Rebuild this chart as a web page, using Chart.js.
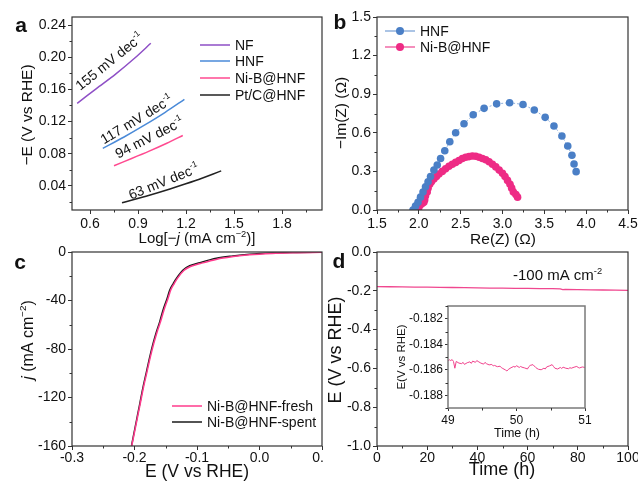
<!DOCTYPE html>
<html>
<head>
<meta charset="utf-8">
<script src="https://cdn.jsdelivr.net/npm/chart.js@4.4.0/dist/chart.umd.min.js"></script>
<style>
  body { margin: 0; background: #fff; }
  #wrap { position: relative; width: 638px; height: 481px; overflow: hidden; background: #fff; }
  canvas { position: absolute; }
</style>
</head>
<body>
<div id="wrap">
  <canvas id="ca" width="324" height="250" style="left:0;top:0"></canvas>
  <canvas id="cb" width="316" height="250" style="left:322px;top:0"></canvas>
  <canvas id="cc" width="324" height="241" style="left:0;top:240px"></canvas>
  <canvas id="cd" width="316" height="241" style="left:322px;top:240px"></canvas>
  <canvas id="ci" width="215" height="146" style="left:390px;top:296px"></canvas>
</div>
<script>
// ---- panel a: Tafel plots ----
const aNfX   = [0.52, 0.64, 0.76, 0.88, 0.98];
const aNfY   = [0.1427, 0.161, 0.179, 0.199, 0.2173];
const aHnfX  = [0.68, 0.81, 0.94, 1.07, 1.19];
const aHnfY  = [0.0866, 0.1005, 0.1155, 0.1315, 0.1476];
const aNibX  = [0.75, 0.86, 0.97, 1.08, 1.18];
const aNibY  = [0.0651, 0.0740, 0.0832, 0.0930, 0.1027];
const aPtX   = [0.80, 0.95, 1.10, 1.26, 1.42];
const aPtY   = [0.019, 0.0272, 0.0362, 0.0466, 0.0586];
const aXTicks = [0.6, 0.9, 1.2, 1.5, 1.8];
const aYTicks = [0.04, 0.08, 0.12, 0.16, 0.20, 0.24];

// ---- panel b: Nyquist ----
const bHnfRe = [1.93, 1.96, 1.99, 2.02, 2.05, 2.08, 2.11, 2.14, 2.18, 2.22, 2.26, 2.31, 2.37, 2.44, 2.54, 2.65,
                2.78, 2.93, 3.085, 3.245, 3.38, 3.51, 3.615, 3.71, 3.78, 3.83, 3.855, 3.88];
const bHnfIm = [0.0, 0.03, 0.06, 0.10, 0.14, 0.18, 0.22, 0.26, 0.31, 0.35, 0.40, 0.46, 0.53, 0.60, 0.67, 0.74,
                0.79, 0.825, 0.834, 0.82, 0.777, 0.72, 0.653, 0.575, 0.497, 0.425, 0.357, 0.298];
const bNibRe = [1.99, 2.0, 2.02, 2.04, 2.06, 2.07, 2.08, 2.10, 2.11, 2.13, 2.15, 2.18, 2.21, 2.24, 2.28, 2.32,
                2.36, 2.40, 2.44, 2.48, 2.52, 2.56, 2.60, 2.64, 2.68, 2.72, 2.76, 2.80, 2.84, 2.88, 2.92, 2.96,
                3.00, 3.03, 3.06, 3.09, 3.11, 3.13, 3.16, 3.18];
const bNibIm = [0.0, 0.02, 0.04, 0.05, 0.06, 0.08, 0.11, 0.14, 0.17, 0.20, 0.22, 0.24, 0.26, 0.28, 0.30, 0.32,
                0.34, 0.355, 0.37, 0.385, 0.40, 0.41, 0.415, 0.42, 0.418, 0.41, 0.40, 0.39, 0.375, 0.355, 0.335, 0.31,
                0.285, 0.26, 0.23, 0.20, 0.17, 0.14, 0.12, 0.10];
const bXTicks = [1.5, 2.0, 2.5, 3.0, 3.5, 4.0, 4.5];
const bYTicks = [0.0, 0.3, 0.6, 0.9, 1.2, 1.5];

// ---- panel c: polarization curves ----
const cSpentE = [-0.2048, -0.2021, -0.1968, -0.1915, -0.1862, -0.1809, -0.1755, -0.1702, -0.1649, -0.1596, -0.1543, -0.148,
                 -0.1436, -0.138, -0.133, -0.1223, -0.1117, -0.0957, -0.069, -0.0426, -0.016, 0.02, 0.06, 0.1];
const cSpentJ = [-160, -152.6, -138.8, -125, -111, -98.8, -86.3, -75.3, -65.7, -57.4, -47.8, -38.5,
                 -31.3, -26, -21.7, -14.8, -11.3, -8.8, -5.2, -3.3, -1.9, -0.9, -0.4, 0];
const cFreshE = [-0.2045, -0.2016, -0.1962, -0.1908, -0.1854, -0.18, -0.1745, -0.1691, -0.1637, -0.1583, -0.1528, -0.1465,
                 -0.142, -0.1364, -0.1314, -0.121, -0.1105, -0.0947, -0.068, -0.042, -0.016, 0.02, 0.06, 0.1];
const cFreshJ = [-160, -152.6, -138.8, -125, -111, -98.8, -86.3, -75.3, -65.7, -57.4, -47.8, -38.5,
                 -31.3, -26, -21.7, -15.3, -12, -9.5, -5.9, -3.8, -2.3, -1.2, -0.6, -0.2];
const cXTicks = [-0.3, -0.2, -0.1, 0.0, 0.1];
const cYTicks = [-160, -120, -80, -40, 0];

// ---- panel d: chronopotentiometry ----
const dTime = [0, 5, 10, 15, 20, 25, 30, 35, 40, 45, 50, 55, 60, 65, 70, 73, 74, 75, 80, 85, 90, 95, 100];
const dE    = [-0.178, -0.179, -0.180, -0.181, -0.181, -0.182, -0.183, -0.184, -0.185, -0.186, -0.186, -0.187,
               -0.188, -0.189, -0.189, -0.190, -0.194, -0.193, -0.194, -0.195, -0.196, -0.197, -0.198];
const dXTicks = [0, 20, 40, 60, 80, 100];
const dYTicks = [-1.0, -0.8, -0.6, -0.4, -0.2, 0.0];

// ---- inset ----
const iTime = [49.00, 49.02, 49.04, 49.06, 49.08, 49.10, 49.12, 49.16, 49.20, 49.22, 49.24, 49.28, 49.32, 49.34,
               49.36, 49.40, 49.42, 49.44, 49.48, 49.52, 49.54, 49.56, 49.60, 49.64, 49.66, 49.68, 49.72, 49.76,
               49.78, 49.80, 49.84, 49.86, 49.88, 49.92, 49.96, 49.98, 50.00, 50.04, 50.06, 50.08, 50.12, 50.16,
               50.18, 50.20, 50.24, 50.28, 50.30, 50.32, 50.36, 50.40, 50.42, 50.44, 50.48, 50.52, 50.54, 50.56,
               50.60, 50.64, 50.66, 50.68, 50.72, 50.76, 50.78, 50.80, 50.84, 50.88, 50.90, 50.92, 50.96, 51.00];
const iE    = [-0.18530, -0.18522, -0.18528, -0.18520, -0.18535, -0.18588, -0.18535, -0.18548, -0.18552, -0.18542,
               -0.18558, -0.18545, -0.18538, -0.18550, -0.18532, -0.18542, -0.18528, -0.18535, -0.18548, -0.18556,
               -0.18542, -0.18552, -0.18562, -0.18558, -0.18570, -0.18566, -0.18576, -0.18572, -0.18584, -0.18590,
               -0.18602, -0.18610, -0.18598, -0.18584, -0.18574, -0.18580, -0.18568, -0.18582, -0.18574, -0.18580,
               -0.18586, -0.18594, -0.18576, -0.18566, -0.18560, -0.18582, -0.18590, -0.18596, -0.18600, -0.18588,
               -0.18594, -0.18578, -0.18570, -0.18560, -0.18574, -0.18588, -0.18594, -0.18582, -0.18590, -0.18580,
               -0.18588, -0.18592, -0.18584, -0.18588, -0.18580, -0.18574, -0.18582, -0.18586, -0.18578, -0.18582];
const iXTicks = [49, 50, 51];
const iYTicks = [-0.188, -0.186, -0.184, -0.182];

const FONT = '"Liberation Sans", Arial, sans-serif';
Chart.defaults.font.family = FONT;
Chart.defaults.color = '#111';

const pts = (xs, ys) => xs.map((x, i) => ({ x, y: ys[i] }));

// midpoints between majors, extended to the axis range
function minors(majors, min, max) {
  const step = majors[1] - majors[0], out = [];
  for (let v = majors[0] - step / 2; v >= min - 1e-9; v -= step) out.push(v);
  majors.forEach(m => { const v = m + step / 2; if (v <= max + 1e-9) out.push(v); });
  return out;
}

function rich(ctx, t) {
  const size = t.size || 14;
  const segs = typeof t.text === 'string' ? [{ t: t.text }] : t.text;
  const fontOf = s => `${s.i ? 'italic ' : ''}${t.bold ? 'bold ' : ''}${s.sup ? size * 0.62 : size}px ${FONT}`;
  let w = 0;
  segs.forEach(s => { ctx.font = fontOf(s); s.w = ctx.measureText(s.t).width; w += s.w; });
  ctx.save();
  ctx.translate(t.x, t.y);
  if (t.rot) ctx.rotate(t.rot * Math.PI / 180);
  ctx.fillStyle = t.color || '#111';
  ctx.textBaseline = 'alphabetic';
  ctx.textAlign = 'left';
  let x = t.align === 'left' ? 0 : -w / 2;
  const base = size * 0.36;
  segs.forEach(s => { ctx.font = fontOf(s); ctx.fillText(s.t, x, s.sup ? base - size * 0.45 : base); x += s.w; });
  ctx.restore();
}

const deco = {
  id: 'deco',
  afterDraw(chart, args, o) {
    const ctx = chart.ctx, a = chart.chartArea, sx = chart.scales.x, sy = chart.scales.y;
    ctx.save();
    ctx.strokeStyle = o.frameColor || '#333';
    ctx.lineWidth = o.frameWidth || 1.2;
    ctx.strokeRect(a.left, a.top, a.right - a.left, a.bottom - a.top);
    ctx.lineWidth = 1;
    ctx.strokeStyle = o.tickColor || '#333';
    ctx.beginPath();
    (o.minorX || []).forEach(v => { const p = Math.round(sx.getPixelForValue(v)) + 0.5; ctx.moveTo(p, a.bottom); ctx.lineTo(p, a.bottom + 2.5); });
    (o.minorY || []).forEach(v => { const p = Math.round(sy.getPixelForValue(v)) + 0.5; ctx.moveTo(a.left - 2.5, p); ctx.lineTo(a.left, p); });
    ctx.stroke();
    (o.legend || []).forEach(l => {
      ctx.strokeStyle = l.color; ctx.lineWidth = 1.5;
      ctx.beginPath(); ctx.moveTo(l.x, l.y); ctx.lineTo(l.x + l.len, l.y); ctx.stroke();
      if (l.marker) {
        ctx.fillStyle = l.marker;
        ctx.beginPath(); ctx.arc(l.x + l.len / 2, l.y, 4, 0, Math.PI * 2); ctx.fill();
      }
      rich(ctx, { text: l.text, x: l.x + l.len + 5, y: l.y, size: 14, align: 'left' });
    });
    (o.texts || []).forEach(t => {
      const tt = Object.assign({}, t);
      if (t.data) { tt.x = sx.getPixelForValue(t.x); tt.y = sy.getPixelForValue(t.y); }
      rich(ctx, tt);
    });
    ctx.restore();
  }
};

function axis(min, max, ticks, fmt, fit, extra) {
  const horiz = fit.h !== undefined;
  return Object.assign({
    type: 'linear', min, max,
    afterBuildTicks: s => { s.ticks = ticks.map(v => ({ value: v })); },
    afterFit: s => {
      if (horiz) { s.height = fit.h; s.paddingLeft = 0; s.paddingRight = 0; }
      else { s.width = fit.w; s.paddingTop = 0; s.paddingBottom = 0; }
    },
    ticks: { callback: v => fmt(v), color: '#111', font: { size: fit.fs || 14 }, padding: fit.pad !== undefined ? fit.pad : 2, maxRotation: 0, autoSkip: false },
    grid: { drawOnChartArea: false, drawTicks: true, tickLength: fit.tl || 4, tickColor: '#333', tickWidth: 1 },
    border: { display: false },
  }, extra || {});
}

function lineSet(xs, ys, color, width, extra) {
  return Object.assign({
    data: pts(xs, ys), borderColor: color, borderWidth: width, pointRadius: 0,
    tension: 0.3, fill: false,
  }, extra || {});
}

function make(id, datasets, scales, padding, decoOpts) {
  return new Chart(document.getElementById(id).getContext('2d'), {
    type: 'line',
    data: { datasets },
    options: {
      responsive: false, animation: false, devicePixelRatio: 1,
      layout: { padding },
      plugins: { legend: { display: false }, tooltip: { enabled: false }, deco: decoOpts },
      scales,
    },
    plugins: [deco],
  });
}

const f1 = v => v.toFixed(1), f2 = v => v.toFixed(2), f0 = v => String(Math.round(v)), f3 = v => v.toFixed(3);
const sup = (t) => ({ t, sup: 1 });

// panel a
make('ca', [
  lineSet(aNfX, aNfY, '#8e4fc6', 1.5),
  lineSet(aHnfX, aHnfY, '#4a8ad8', 1.5),
  lineSet(aNibX, aNibY, '#ff4a90', 1.5),
  lineSet(aPtX, aPtY, '#222', 1.5),
], {
  x: axis(0.4875, 2.05, aXTicks, f1, { h: 40 }),
  y: axis(0.01, 0.25, aYTicks, f2, { w: 72 }),
}, { top: 17, right: 2, left: 0, bottom: 0 }, {
  minorX: minors(aXTicks, 0.4875, 2.05), minorY: minors(aYTicks, 0.01, 0.25),
  legend: [
    { x: 200, y: 45, len: 30, color: '#8e4fc6', text: 'NF' },
    { x: 200, y: 61, len: 30, color: '#4a8ad8', text: 'HNF' },
    { x: 200, y: 78, len: 30, color: '#ff4a90', text: 'Ni-B@HNF' },
    { x: 200, y: 95, len: 30, color: '#222', text: 'Pt/C@HNF' },
  ],
  texts: [
    { text: 'a', x: 21, y: 24, size: 21, bold: 1 },
    { text: '−E (V vs RHE)', x: 26, y: 115, size: 15.5, rot: -90 },
    { text: [{ t: 'Log[−' }, { t: 'j', i: 1 }, { t: ' (mA cm' }, sup('−2'), { t: ')]' }], x: 197, y: 238, size: 15 },
    { text: [{ t: '155 mV dec' }, sup('-1')], data: 1, x: 0.72, y: 0.195, rot: -39, size: 14 },
    { text: [{ t: '117 mV dec' }, sup('-1')], data: 1, x: 0.89, y: 0.123, rot: -31, size: 14 },
    { text: [{ t: '94 mV dec' }, sup('-1')], data: 1, x: 0.97, y: 0.1005, rot: -27, size: 14 },
    { text: [{ t: '63 mV dec' }, sup('-1')], data: 1, x: 1.06, y: 0.046, rot: -22, size: 14 },
  ],
});

// panel b
make('cb', [
  lineSet(bHnfRe, bHnfIm, '#8fb0dc', 1, { tension: 0, borderDash: [2, 2], pointRadius: 3.8, pointBackgroundColor: '#4a7fc6', pointBorderWidth: 0 }),
  lineSet(bNibRe, bNibIm, '#f06aa6', 1, { tension: 0, pointRadius: 3.8, pointBackgroundColor: '#ee2b85', pointBorderWidth: 0 }),
], {
  x: axis(1.5, 4.5, bXTicks, f1, { h: 40 }),
  y: axis(0, 1.5, bYTicks, f1, { w: 55 }),
}, { top: 17, right: 10, left: 0, bottom: 0 }, {
  minorX: minors(bXTicks, 1.5, 4.5), minorY: minors(bYTicks, 0, 1.5),
  legend: [
    { x: 63, y: 31, len: 30, color: '#8fb0dc', marker: '#4a7fc6', text: 'HNF' },
    { x: 63, y: 47, len: 30, color: '#f06aa6', marker: '#ee2b85', text: 'Ni-B@HNF' },
  ],
  texts: [
    { text: 'b', x: 18, y: 21, size: 21, bold: 1 },
    { text: '−Im(Z) (Ω)', x: 18, y: 113, size: 15.5, rot: -90 },
    { text: 'Re(Z) (Ω)', x: 181, y: 238, size: 15.5 },
  ],
});

// panel c
make('cc', [
  lineSet(cFreshE, cFreshJ, '#ff3b8d', 1.5, { cubicInterpolationMode: 'monotone' }),
  lineSet(cSpentE, cSpentJ, '#1a1a1a', 1.5, { cubicInterpolationMode: 'monotone' }),
], {
  x: axis(-0.3, 0.1, cXTicks, f1, { h: 35, pad: 0 }),
  y: axis(-160, 0, cYTicks, f0, { w: 72 }),
}, { top: 12, right: 2, left: 0, bottom: 0 }, {
  minorX: minors(cXTicks, -0.3, 0.1), minorY: minors(cYTicks, -160, 0),
  legend: [
    { x: 172, y: 166, len: 30, color: '#ff3b8d', text: 'Ni-B@HNF-fresh' },
    { x: 172, y: 182, len: 30, color: '#1a1a1a', text: 'Ni-B@HNF-spent' },
  ],
  texts: [
    { text: 'c', x: 20, y: 21, size: 21, bold: 1 },
    { text: [{ t: 'j', i: 1 }, { t: ' (mA cm' }, sup('−2'), { t: ')' }], x: 27, y: 100, size: 16, rot: -90 },
    { text: 'E (V vs RHE)', x: 197, y: 230.5, size: 17.5 },
  ],
});

// panel d
make('cd', [
  lineSet(dTime, dE, '#f0478f', 1.3, { tension: 0 }),
], {
  x: axis(0, 100, dXTicks, f0, { h: 35, pad: 0 }),
  y: axis(-1.0, 0, dYTicks, f1, { w: 55 }),
}, { top: 12, right: 10, left: 0, bottom: 0 }, {
  minorX: minors(dXTicks, 0, 100), minorY: minors(dYTicks, -1, 0),
  texts: [
    { text: 'd', x: 17, y: 20, size: 21, bold: 1 },
    { text: 'E (V vs RHE)', x: 13, y: 110, size: 18, rot: -90 },
    { text: 'Time (h)', x: 180, y: 229, size: 18 },
    { text: [{ t: '-100 mA cm' }, sup('-2')], x: 191, y: 35, size: 15, align: 'left' },
  ],
});

// inset
make('ci', [
  lineSet(iTime, iE, '#f0428c', 1, { tension: 0 }),
], {
  x: axis(49, 51, iXTicks, f0, { h: 34, fs: 12, tl: 3 }),
  y: axis(-0.189, -0.181, iYTicks, f3, { w: 58, fs: 12, tl: 3 }),
}, { top: 10, right: 20, left: 0, bottom: 0 }, {
  frameColor: '#7a7a7a', frameWidth: 1.5,
  minorX: minors(iXTicks, 49, 51), minorY: minors(iYTicks, -0.189, -0.181),
  texts: [
    { text: 'E(V vs RHE)', x: 11, y: 61, size: 11.5, rot: -90 },
    { text: 'Time (h)', x: 127, y: 136, size: 12.5 },
  ],
});
</script>
</body>
</html>
